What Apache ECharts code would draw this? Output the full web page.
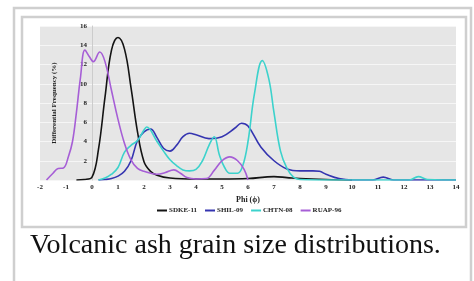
<!DOCTYPE html>
<html>
<head>
<meta charset="utf-8">
<script src="https://cdn.jsdelivr.net/npm/echarts@6/dist/echarts.min.js"></script>
<style>
  html, body { margin: 0; padding: 0; background: #fff; }
  #chart { width: 474px; height: 281px; }
</style>
</head>
<body>
<div id="chart"></div>
<script>
// 数据: [phi, 频率%]
var sdke11 = [
  [-0.6, 0], [-0.3, 0.05], [0, 0.3], [0.25, 3.2], [0.5, 8.6], [0.75, 13.5], [1, 14.8],
  [1.25, 13.6], [1.5, 9.6], [1.75, 5], [2, 1.9], [2.25, 0.9], [2.5, 0.5], [3, 0.2],
  [4, 0.1], [5, 0.1], [6, 0.15], [7, 0.35], [7.5, 0.25], [8, 0.15], [9, 0.05], [10, 0]
];
var shil09 = [
  [0.25, 0], [0.5, 0.05], [0.75, 0.15], [1, 0.4], [1.25, 0.9], [1.5, 2], [1.75, 4.1],
  [2, 5], [2.25, 5.3], [2.5, 4.4], [2.75, 3.3], [3, 3], [3.25, 3.6], [3.5, 4.5],
  [3.75, 4.85], [4, 4.7], [4.5, 4.3], [5, 4.5], [5.5, 5.4], [5.75, 5.9], [6, 5.6],
  [6.5, 3.4], [7, 2], [7.5, 1.15], [8, 0.95], [8.5, 0.95], [8.75, 0.9], [9, 0.6],
  [9.5, 0.15], [10, 0], [10.8, 0], [11.2, 0.3], [11.6, 0], [14, 0]
];
var chtn08 = [
  [0.25, 0], [0.5, 0.2], [0.75, 0.6], [1, 1.3], [1.25, 2.9], [1.5, 3.6], [1.75, 4.1],
  [2, 5.2], [2.1, 5.5], [2.5, 4], [2.75, 3], [3, 2.1], [3.25, 1.5], [3.5, 1.05],
  [3.75, 0.95], [4, 1.1], [4.25, 2], [4.5, 3.6], [4.7, 4.5], [4.9, 2.6], [5.1, 1.3],
  [5.3, 0.7], [5.6, 0.7], [5.8, 1.5], [6, 4], [6.25, 9], [6.55, 12.4], [6.8, 10.5],
  [7, 7], [7.25, 3], [7.5, 1.2], [7.75, 0.3], [8, 0.05], [9, 0], [12.2, 0],
  [12.55, 0.35], [12.9, 0.05], [13.5, 0], [14, 0]
];
var ruap96 = [
  [-1.75, 0], [-1.5, 0.7], [-1.3, 1.2], [-1.1, 1.25], [-0.9, 2.5], [-0.75, 4],
  [-0.6, 7], [-0.45, 10.5], [-0.27, 13.5], [-0.1, 12.8], [0.05, 12.3], [0.3, 13.3],
  [0.5, 12.3], [0.75, 9.3], [1, 6.3], [1.25, 3.8], [1.5, 2.1], [1.75, 1.2], [2, 0.9],
  [2.5, 0.6], [2.8, 0.75], [3.15, 1.05], [3.4, 0.7], [3.65, 0.25], [4, 0.1],
  [4.4, 0.15], [4.7, 1], [5, 2], [5.3, 2.4], [5.6, 2], [5.85, 1.1], [6, 0]
];
var seriesNames = ['SDKE-11', 'SHIL-09', 'CHTN-08', 'RUAP-96'];
var seriesColors = ['#141414', '#3434b0', '#3cd2cc', '#a65ed6'];
var caption = 'Volcanic ash grain size distributions.';

var myChart = echarts.init(document.getElementById('chart'));
var allData = [sdke11, shil09, chtn08, ruap96];
var serif = '"Liberation Serif", "DejaVu Serif", serif';

var option = {
  backgroundColor: '#fff',
  animation: false,
  graphic: [
    // 外框
    { type: 'rect', shape: { x: 14, y: 8, width: 457, height: 290 }, style: { fill: 'none', stroke: '#cfcfcf', lineWidth: 2.5 }, z: -10 },
    // 图片边框
    { type: 'rect', shape: { x: 22, y: 17, width: 444, height: 210 }, style: { fill: '#fff', stroke: '#cfcfcf', lineWidth: 2.5 }, z: -10 },
    {
      type: 'text', left: 30, top: 232,
      style: { text: caption, font: '28px ' + serif, fill: '#111' }
    }
  ],
  grid: {
    left: 40, right: 18, top: 26, bottom: 101,
    outerBoundsMode: 'none',
    containLabel: false,
    show: true, backgroundColor: '#e6e6e6', borderWidth: 0
  },
  legend: {
    data: seriesNames,
    left: 152,
    top: 202,
    itemWidth: 10,
    itemHeight: 2,
    itemGap: 8,
    icon: 'rect',
    textStyle: { fontFamily: serif, fontSize: 7, fontWeight: 'bold', color: '#222', padding: [0, 0, 0, -3] }
  },
  xAxis: {
    type: 'value',
    min: -2, max: 14, interval: 1,
    name: 'Phi (\u03d5)',
    nameLocation: 'middle',
    nameGap: 14,
    nameTextStyle: { fontFamily: serif, fontSize: 8, fontWeight: 'bold', color: '#222' },
    axisLine: { show: false },
    axisTick: { show: false },
    splitLine: { show: false },
    axisLabel: { fontFamily: serif, fontSize: 7, fontWeight: 'bold', color: '#222', margin: 4 }
  },
  yAxis: {
    type: 'value',
    min: 0, max: 16, interval: 2,
    offset: -52,
    name: 'Differential Frequency (%)',
    nameLocation: 'middle',
    nameGap: 34,
    nameRotate: 90,
    nameTextStyle: { fontFamily: serif, fontSize: 7, fontWeight: 'bold', color: '#222' },
    axisLine: { show: true, onZero: false, lineStyle: { color: '#cccccc', width: 1 } },
    axisTick: { show: false },
    splitLine: { lineStyle: { color: '#f6f6f6', width: 1 } },
    axisLabel: { fontFamily: serif, fontSize: 7, fontWeight: 'bold', color: '#222', margin: 5, showMinLabel: false }
  },
  series: allData.map(function (d, i) {
    return {
      name: seriesNames[i],
      type: 'line',
      data: d,
      smooth: 0.4,
      symbol: 'none',
      color: seriesColors[i],
      lineStyle: { width: 1.6, color: seriesColors[i] }
    };
  })
};
option && myChart.setOption(option);
</script>
</body>
</html>
